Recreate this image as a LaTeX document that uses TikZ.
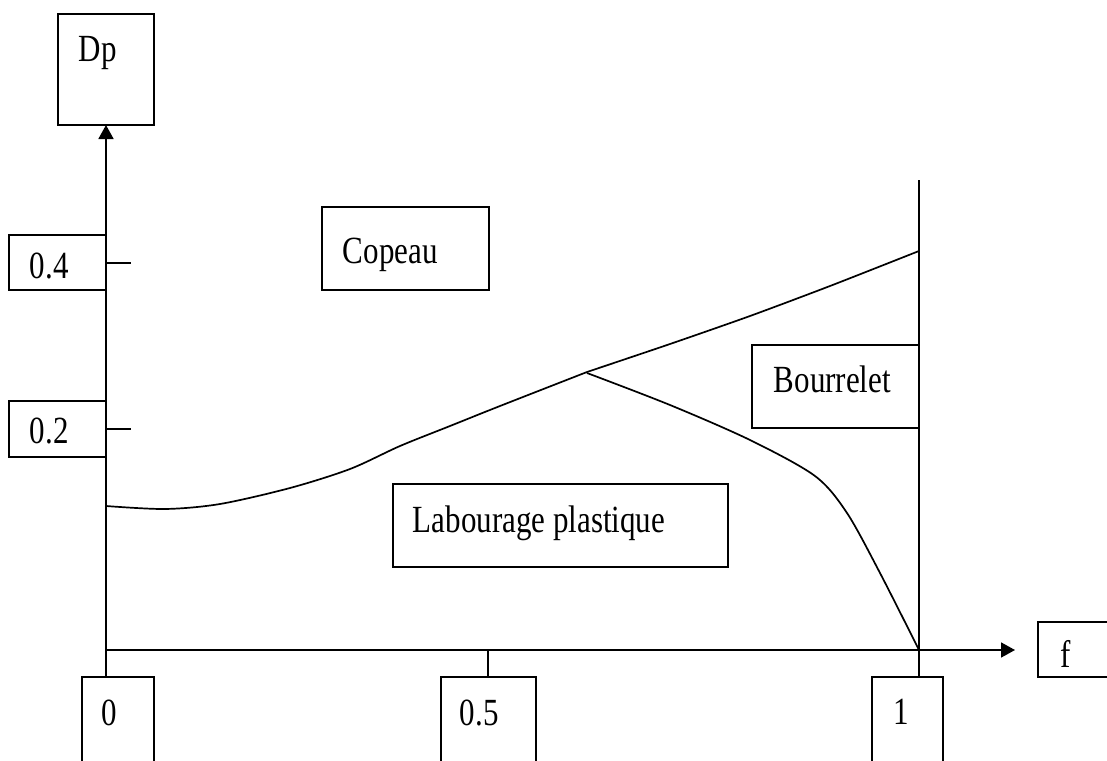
\documentclass[tikz,border=0pt]{standalone}
\usepackage{fontspec}
\usepackage{graphicx}
\setmainfont{Liberation Serif}
\usetikzlibrary{arrows.meta}
\newcommand{\tallt}[1]{\scalebox{1}[1.24]{#1}}
\begin{document}
\begin{tikzpicture}[x=1pt,y=-1pt,line width=1.7pt,
  boxst/.style={draw,line width=1.7pt,inner sep=0pt,outer sep=0pt,anchor=north west},
  lbl/.style={font=\fontsize{31}{36}\selectfont,inner sep=0pt,anchor=base west},
  axis/.style={line width=1.7pt},
  tip/.style={-{Triangle[length=14pt,width=15pt]}},
  curve/.style={line width=1.7pt}]
\useasboundingbox (0,0) rectangle (1107,760);
\clip (0,0) rectangle (1107,760);
% boxes
\node[boxst,minimum width=96pt,minimum height=111pt] (dpbox) at (58,14) {};
\node[boxst,minimum width=97pt,minimum height=55pt] (b04) at (9,235) {};
\node[boxst,minimum width=97pt,minimum height=56pt] (b02) at (9,401) {};
\node[boxst,minimum width=167pt,minimum height=83pt] (copeau) at (322,207) {};
\node[boxst,minimum width=167pt,minimum height=83pt] (bourrelet) at (752,345) {};
\node[boxst,minimum width=335pt,minimum height=83pt] (labour) at (393,484) {};
\node[boxst,minimum width=72pt,minimum height=110pt] (b0) at (82,677) {};
\node[boxst,minimum width=95pt,minimum height=110pt] (b05) at (441,677) {};
\node[boxst,minimum width=71pt,minimum height=110pt] (b1) at (872,677) {};
\node[boxst,minimum width=100pt,minimum height=55pt] (fbox) at (1038,622) {};
% texts
\node[lbl] (tdp) at (78,62) {\tallt{Dp}};
\node[lbl] (t04) at (29,278) {\tallt{0.4}};
\node[lbl] (t02) at (29,443) {\tallt{0.2}};
\node[lbl] (tcop) at (342,263) {\tallt{Copeau}};
\node[lbl] (tbour) at (773,392) {\tallt{Bourrelet}};
\node[lbl] (tlab) at (412,532) {\tallt{Labourage plastique}};
\node[lbl] (t0) at (101,725) {\tallt{0}};
\node[lbl] (t05) at (459,725) {\tallt{0.5}};
\node[lbl] (t1) at (893,724) {\tallt{1}};
\node[lbl] (tf) at (1060,667) {\tallt{f}};
% axes
\coordinate (O) at (106,650);
\coordinate (xend) at (1015,650);
\coordinate (vtop) at (919,180);
\draw[axis,tip] (O) -- (dpbox.south -| O);
\draw[axis,tip] (O) -- (xend);
\draw[axis] (vtop) -- (b1.north -| vtop);
% ticks
\coordinate (t4a) at (106,263);
\coordinate (t4b) at (131,263);
\coordinate (t2a) at (106,429);
\coordinate (t2b) at (131,429);
\draw[axis] (t4a) -- (t4b);
\draw[axis] (t2a) -- (t2b);
\draw[axis] (O) -- (b0.north -| O);
\coordinate (m05) at (488,650);
\draw[axis] (m05) -- (b05.north -| m05);
% curves
\coordinate (P) at (587,372);
\draw[curve] plot[smooth,tension=0.5] coordinates {(106,506) (165,509) (220,504) (290,488) (350,469) (400,446) (450,426) (500,406) (587,372)};
\draw[curve] plot[smooth,tension=0.4] coordinates {(587,372) (670,344) (750,316) (830,286) (919,251)};
\draw[curve] plot[smooth,tension=0.5] coordinates {(587,373) (670,405) (750,440) (815,476) (847,513) (880,573) (919,650)};
\end{tikzpicture}
\end{document}
